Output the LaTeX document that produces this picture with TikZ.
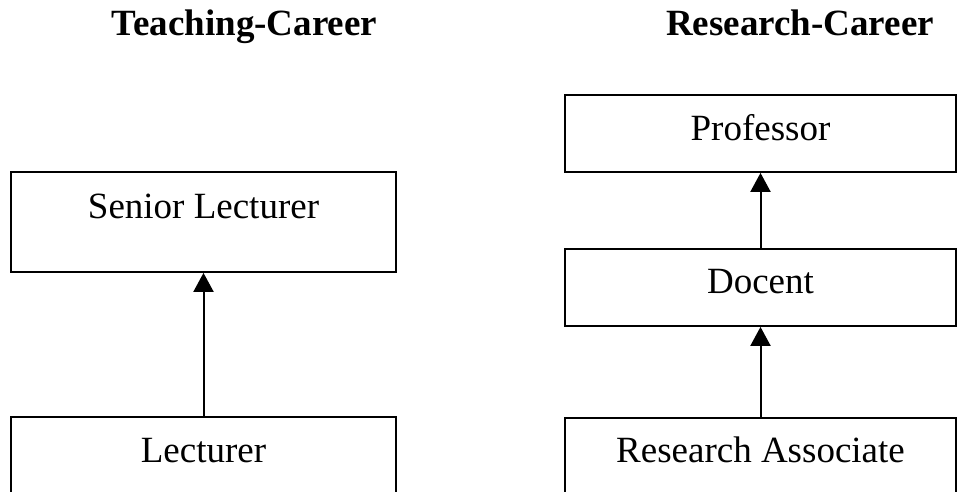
\documentclass[tikz,border=0pt]{standalone}
\usepackage{fontspec}
\setmainfont{Liberation Serif}
\usetikzlibrary{arrows.meta}
\begin{document}
\begin{tikzpicture}[x=1pt,y=-1pt,
  box/.style={draw,line width=1.8pt,rectangle,inner sep=0pt},
  lab/.style={anchor=base,inner sep=0pt,font=\fontsize{37}{44}\selectfont},
  ttl/.style={anchor=base,inner sep=0pt,font=\fontsize{37}{43}\selectfont\bfseries},
  arr/.style={line width=2pt,-{Triangle[width=20pt,length=19pt]}}]
\useasboundingbox (0,0) rectangle (959,491);
\clip (0,0) rectangle (959,491);
% titles
\node[ttl] (t1) at (244.5,35.5) {Teaching-Career};
\node[ttl] (t2) at (800,35.5) {Research-Career};
% left column
\node[box,minimum width=385pt,minimum height=100pt] (sl) at (203.5,222) {};
\node[lab] (slt) at (203.5,218) {Senior Lecturer};
\node[box,minimum width=385pt,minimum height=100pt] (lec) at (203.5,467) {};
\node[lab] (lect) at (203.5,462) {Lecturer};
% right column
\node[box,minimum width=391pt,minimum height=77pt] (prof) at (760.5,133.5) {};
\node[lab] (proft) at (760.5,140) {Professor};
\node[box,minimum width=391pt,minimum height=77pt] (doc) at (760.5,287.5) {};
\node[lab] (doct) at (760.5,293) {Docent};
\node[box,minimum width=391pt,minimum height=100pt] (ra) at (760.5,468) {};
\node[lab] (rat) at (760.5,462) {Research Associate};
% arrows
\draw[arr] (lec.north) -- (sl.south);
\draw[arr] (doc.north) -- (prof.south);
\draw[arr] (ra.north) -- (doc.south);
\end{tikzpicture}
\end{document}
